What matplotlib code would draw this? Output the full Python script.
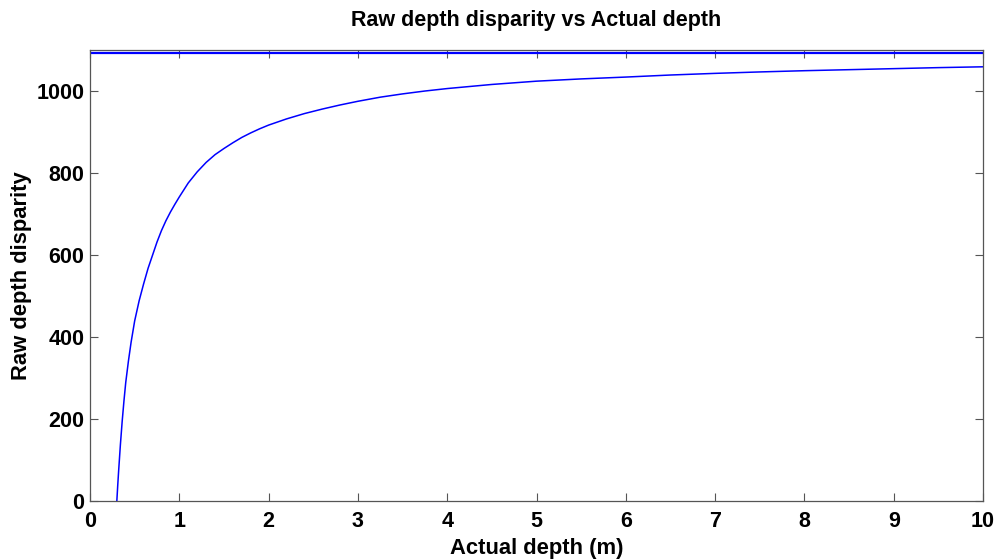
import matplotlib
matplotlib.use("Agg")
import matplotlib.pyplot as plt

depth = [0.30, 0.31, 0.32, 0.34, 0.36, 0.38, 0.40, 0.43, 0.46, 0.50, 0.55, 0.60,
         0.65, 0.70, 0.75, 0.80, 0.85, 0.90, 0.95, 1.0, 1.1, 1.2, 1.3, 1.4, 1.5,
         1.6, 1.7, 1.8, 1.9, 2.0, 2.2, 2.4, 2.6, 2.8, 3.0, 3.25, 3.5, 3.75, 4.0,
         4.5, 5.0, 5.5, 6.0, 6.5, 7.0, 7.5, 8.0, 8.5, 9.0, 9.5, 10.0]
disparity = [0, 38, 73, 138, 195, 245, 290, 342, 388, 440, 489, 530,
             568, 600, 632, 660, 684, 705, 724, 742, 776, 803, 826, 845, 860,
             874, 887, 898, 908, 917, 932, 945, 956, 966, 975, 985, 993, 1000, 1006,
             1016, 1024, 1029.5, 1034, 1039, 1043, 1046.5, 1049.5, 1052, 1054.5, 1057, 1059]
asymptote_x = [0, 10]
asymptote_y = [1092, 1092]

xticks = list(range(0, 11))
yticks = [0, 200, 400, 600, 800, 1000]

plt.rcParams['font.family'] = ['Liberation Sans', 'DejaVu Sans']
fig = plt.figure(figsize=(9.98, 5.59), dpi=100)
ax = fig.add_axes([0.0902, 0.1029, 0.8948, 0.8077])

ax.plot(depth, disparity, color='#0000ff', lw=1.1)
ax.plot(asymptote_x, asymptote_y, color='#0000ff', lw=1.6)

ax.set_xlim(0, 10)
ax.set_ylim(0, 1100)
ax.set_xticks(xticks)
ax.set_yticks(yticks)
ax.tick_params(direction='in', length=6, width=0.8, color='#555555',
               top=True, right=True, labelsize=15.5, pad=4)
ax.tick_params(axis='x', pad=7)
for lab in ax.get_xticklabels() + ax.get_yticklabels():
    lab.set_fontweight('bold')
for s in ax.spines.values():
    s.set_color('#555555')
    s.set_linewidth(0.9)

ax.set_title('Raw depth disparity vs Actual depth', fontsize=15.5, fontweight='bold', pad=17)
ax.set_xlabel('Actual depth (m)', fontsize=15.8, fontweight='bold', labelpad=4)
ax.set_ylabel('Raw depth disparity', fontsize=15.8, fontweight='bold', labelpad=3)

fig.savefig('out.png', dpi=100)
